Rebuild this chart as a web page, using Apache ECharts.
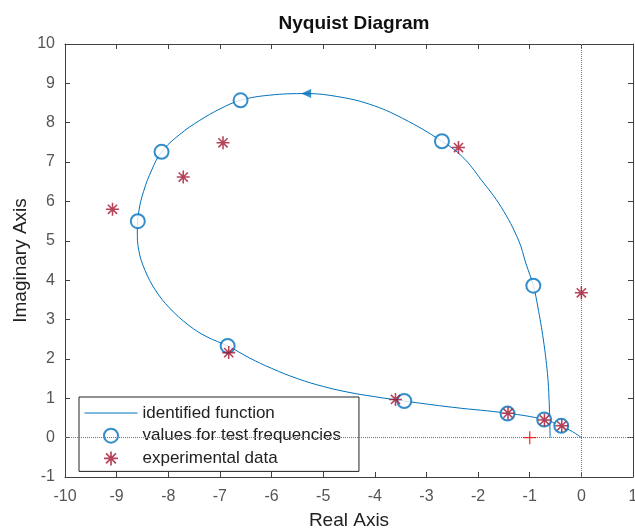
<!DOCTYPE html>
<html lang="en">
<head>
    <meta charset="UTF-8">
    <script src="https://cdn.jsdelivr.net/npm/echarts@6/dist/echarts.min.js"></script>
    <title>Nyquist Diagram</title>
    <style>
        html, body { margin: 0; padding: 0; background: #fff; }
    </style>
</head>
<body>
    <div id="main" style="width: 635px;height:531px;"></div>
</body>
</html>
<script type="text/javascript">
    // identified function (real, imaginary)
    var curvePts = [
        [-0.605, 0.00], [-0.625, 0.96], [-0.657, 1.63], [-0.735, 2.48], [-0.843, 3.32],
        [-0.93, 3.86], [-1.075, 4.43], [-1.218, 5.02], [-1.55, 5.85], [-1.945, 6.56],
        [-2.30, 7.13], [-2.70, 7.53], [-3.46, 8.11], [-4.10, 8.47], [-4.75, 8.67],
        [-5.33, 8.74], [-6.04, 8.70], [-6.60, 8.57], [-7.00, 8.35], [-7.39, 8.06],
        [-7.78, 7.70], [-8.13, 7.26], [-8.32, 6.80], [-8.48, 6.25], [-8.57, 5.75],
        [-8.60, 5.25], [-8.57, 4.75], [-8.45, 4.25], [-8.25, 3.75], [-7.98, 3.30],
        [-7.60, 2.85], [-7.25, 2.56], [-6.85, 2.33], [-6.42, 2.02], [-6.00, 1.76],
        [-5.50, 1.50], [-5.00, 1.30], [-4.50, 1.15], [-4.00, 1.04], [-3.43, 0.93],
        [-2.49, 0.77], [-1.43, 0.62], [-0.72, 0.46], [-0.40, 0.30], [-0.17, 0.15],
        [0.00, 0.00]
    ];
    // values for test frequencies
    var testPts = [
        [-0.93, 3.86], [-2.70, 7.53], [-6.60, 8.57], [-8.13, 7.26], [-8.59, 5.50],
        [-6.85, 2.33], [-3.43, 0.93], [-1.43, 0.61], [-0.72, 0.46], [-0.39, 0.30]
    ];
    // experimental data
    var expPts = [
        [0.00, 3.68], [-2.38, 7.37], [-6.94, 7.49], [-7.71, 6.62], [-9.08, 5.80],
        [-6.83, 2.16], [-3.60, 0.97], [-1.42, 0.62], [-0.715, 0.45], [-0.38, 0.30]
    ];
    var arrowPts = [[-5.33, 8.74]];
    var critPts = [[-1, 0]];
    var xTicks = { min: -10, max: 1, step: 1 };
    var yTicks = { min: -1, max: 10, step: 1 };

    var blue = '#0072BD';
    var red = '#A2142F';
    var axisCol = '#404040';
    var font = 'Liberation Sans';

    var starPath = 'path://M-0.12,-1H0.12V1H-0.12Z' +
        'M-1,-0.12H1V0.12H-1Z' +
        'M-0.62,-0.79L0.79,0.62L0.62,0.79L-0.79,-0.62Z' +
        'M0.79,-0.62L-0.62,0.79L-0.79,0.62L0.62,-0.79Z';
    var plusPath = 'path://M-1,-0.1H-0.1V-1H0.1V-0.1H1V0.1H0.1V1H-0.1V0.1H-1Z';

    function xAx(pos, labels) {
        return {
            type: 'value', position: pos, min: xTicks.min, max: xTicks.max, interval: xTicks.step,
            axisLine: { onZero: false, lineStyle: { color: axisCol, width: 1 } },
            axisTick: { show: true, inside: true, length: 5, lineStyle: { color: axisCol } },
            axisLabel: { show: labels, color: '#555', fontSize: 16, fontFamily: font, margin: 12 },
            splitLine: { show: false },
            name: labels ? 'Real Axis' : '', nameLocation: 'middle', nameGap: 34,
            nameMoveOverlap: false,
            nameTextStyle: { color: '#222', fontSize: 19, fontFamily: font }
        };
    }
    function yAx(pos, labels) {
        return {
            type: 'value', position: pos, min: yTicks.min, max: yTicks.max, interval: yTicks.step,
            axisLine: { onZero: false, lineStyle: { color: axisCol, width: 1 } },
            axisTick: { show: true, inside: true, length: 5, lineStyle: { color: axisCol } },
            axisLabel: { show: labels, color: '#555', fontSize: 16, fontFamily: font, margin: 10 },
            splitLine: { show: false },
            name: labels ? 'Imaginary Axis' : '', nameLocation: 'middle', nameGap: 35, nameRotate: 90,
            nameMoveOverlap: false,
            nameTextStyle: { color: '#222', fontSize: 19, fontFamily: font }
        };
    }

    var chart = echarts.init(document.getElementById('main'));
    var option = {
        animation: false,
        backgroundColor: '#fff',
        title: {
            text: 'Nyquist Diagram', left: 349, top: 9, textAlign: 'center',
            textStyle: { fontSize: 19, fontWeight: 'bold', color: '#111', fontFamily: font }
        },
        grid: { left: 65, right: 2, top: 44, bottom: 54, containLabel: false, outerBoundsMode: 'none' },
        legend: {
            orient: 'vertical', left: 79, top: 397,
            padding: [7, 18, 4, 5],
            itemWidth: 53, itemHeight: 14, itemGap: 4.7,
            backgroundColor: '#fff', borderColor: '#222', borderWidth: 1, borderRadius: 0,
            textStyle: { fontSize: 17, lineHeight: 18, color: '#222', fontFamily: font },
            data: [
                { name: 'identified function', itemStyle: { opacity: 0 }, lineStyle: { width: 1 } },
                'values for test frequencies',
                'experimental data'
            ]
        },
        xAxis: [xAx('bottom', true), xAx('top', false)],
        yAxis: [yAx('left', true), yAx('right', false)],
        series: [
            {
                name: 'identified function', type: 'line', data: curvePts,
                smooth: 0.4, symbol: 'none', z: 3,
                lineStyle: { color: blue, width: 1 }, itemStyle: { color: blue },
                markLine: {
                    silent: true, symbol: 'none', label: { show: false },
                    lineStyle: { type: 'dotted', color: '#777', width: 1 },
                    data: [{ xAxis: 0 }, { yAxis: 0 }]
                }
            },
            {
                name: 'arrow', type: 'scatter', data: arrowPts, symbol: 'triangle',
                symbolRotate: 90, symbolSize: [9, 10], z: 4,
                itemStyle: { color: blue }
            },
            {
                name: 'values for test frequencies', type: 'scatter', data: testPts,
                symbol: 'emptyCircle', symbolSize: 14, z: 4,
                itemStyle: { color: blue, borderColor: blue, borderWidth: 1.5 }
            },
            {
                name: 'experimental data', type: 'scatter', data: expPts,
                symbol: starPath, symbolSize: 13, z: 5,
                itemStyle: { color: red }
            },
            {
                name: 'critical', type: 'scatter', data: critPts,
                symbol: plusPath, symbolSize: 13, z: 5,
                itemStyle: { color: '#ff0000' }
            }
        ]
    };
    chart.setOption(option);
</script>
